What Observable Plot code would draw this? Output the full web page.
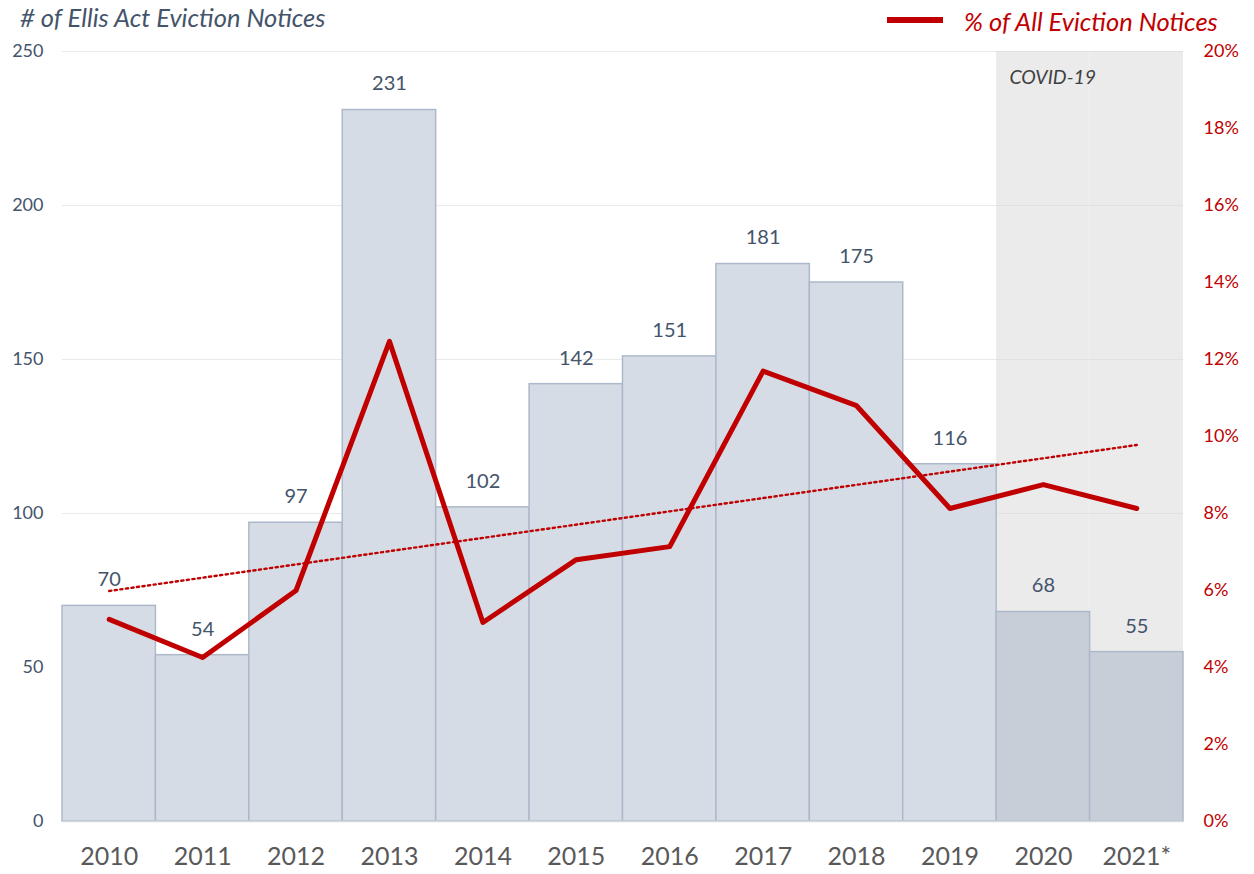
<!DOCTYPE html>
<html>
<head>
<meta charset="utf-8">
<script src="https://cdn.jsdelivr.net/npm/d3@7"></script>
<script src="https://cdn.jsdelivr.net/npm/@observablehq/plot@0.6"></script>
<style>
  html, body { margin: 0; padding: 0; background: #fff; }
  #wrap { position: relative; width: 1254px; height: 874px; font-family: Lato, "Open Sans", sans-serif; }
  #title { position: absolute; left: 20px; top: 2px; line-height: 30px; font-size: 25.5px; font-style: italic; color: #44546a; white-space: nowrap; }
  #legend { position: absolute; left: 887px; top: 6px; height: 30px; line-height: 30px; font-size: 25.5px; font-style: italic; color: #c00000; white-space: nowrap; display: flex; align-items: center; }
  #legend .sw { display: inline-block; width: 56px; height: 6px; background: #c00000; margin-right: 21px; position: relative; top: -1px; }
  #chart { position: absolute; left: 0; top: 0; }
</style>
</head>
<body>
<div id="wrap">
  <div id="chart"></div>
  <div id="title"># of Ellis Act Eviction Notices</div>
  <div id="legend"><span class="sw"></span><span>% of All Eviction Notices</span></div>
</div>
<script>
const years = ["2010","2011","2012","2013","2014","2015","2016","2017","2018","2019","2020","2021*"];
const notices = [70, 54, 97, 231, 102, 142, 151, 181, 175, 116, 68, 55];
const pctAll = [5.25, 4.26, 6.0, 12.47, 5.17, 6.8, 7.14, 11.7, 10.8, 8.13, 8.75, 8.13];
const covidYears = ["2020", "2021*"];
const leftTicks = [0, 50, 100, 150, 200, 250];
const rightTicksPct = [0, 2, 4, 6, 8, 10, 12, 14, 16, 18, 20];

const PCT_TO_LEFT = 250 / 20;
const data = years.map((y, i) => ({year: y, n: notices[i], pct: pctAll[i], pctY: pctAll[i] * PCT_TO_LEFT, covid: covidYears.includes(y)}));

// least-squares trendline of the percent series (as the spreadsheet's linear trendline)
const xs = years.map((_, i) => i);
const mx = d3.mean(xs), my = d3.mean(pctAll);
const slope = d3.sum(xs, (x, i) => (x - mx) * (pctAll[i] - my)) / d3.sum(xs, x => (x - mx) ** 2);
const icpt = my - slope * mx;
const trend = [0, years.length - 1].map(i => ({year: years[i], y: (icpt + slope * i) * PCT_TO_LEFT}));

const plot = Plot.plot({
  width: 1254,
  height: 874,
  marginTop: 51,
  marginBottom: 53,
  marginLeft: 62,
  marginRight: 71,
  style: {fontFamily: "Lato, 'Open Sans', sans-serif", background: "transparent"},
  x: {type: "band", domain: years, padding: 0, round: false, label: null},
  y: {domain: [0, 250], label: null},
  marks: [
    Plot.barY(covidYears, {x: d => d, y1: 0, y2: 250, fill: "#ebebeb", inset: 0}),
    Plot.ruleY(leftTicks.filter(d => d > 0), {stroke: "#d9d9d9", strokeOpacity: 0.55, strokeWidth: 1.2}),
    Plot.barY(data, {x: "year", y: "n", fill: d => d.covid ? "#c8ced8" : "#d6dce5", stroke: "#adb9ca", strokeWidth: 1.5, inset: 0}),
    Plot.ruleY([0], {stroke: "#d5d9e0", strokeWidth: 1.5}),
    Plot.text(data, {x: "year", y: "n", text: d => String(d.n), dy: -26, fill: "#44546a", fontSize: 20}),
    Plot.text(["COVID-19"], {x: () => "2020", y: () => 250, text: d => d, textAnchor: "start", dx: -34, dy: 26, fill: "#404040", fontSize: 19.5, fontStyle: "italic"}),
    Plot.line(trend, {x: "year", y: "y", stroke: "#c00000", strokeWidth: 2.4, strokeDasharray: "2.2 3.4"}),
    Plot.line(data, {x: "year", y: "pctY", stroke: "#c00000", strokeWidth: 5, strokeLinejoin: "round", strokeLinecap: "round"}),
    Plot.axisY({ticks: leftTicks, anchor: "left", tickSize: 0, tickPadding: 19, fill: "#44546a", fontSize: 18, label: null}),
    Plot.axisY({ticks: rightTicksPct.map(p => p * PCT_TO_LEFT), anchor: "right", tickSize: 0, tickPadding: 20, fill: "#c00000", fontSize: 18, label: null, tickFormat: d => Math.round(d / PCT_TO_LEFT) + "%"}),
    Plot.axisX({anchor: "bottom", tickSize: 0, tickPadding: 26, fill: "#595959", fontSize: 25, label: null})
  ]
});
document.getElementById("chart").appendChild(plot);
</script>
</body>
</html>
